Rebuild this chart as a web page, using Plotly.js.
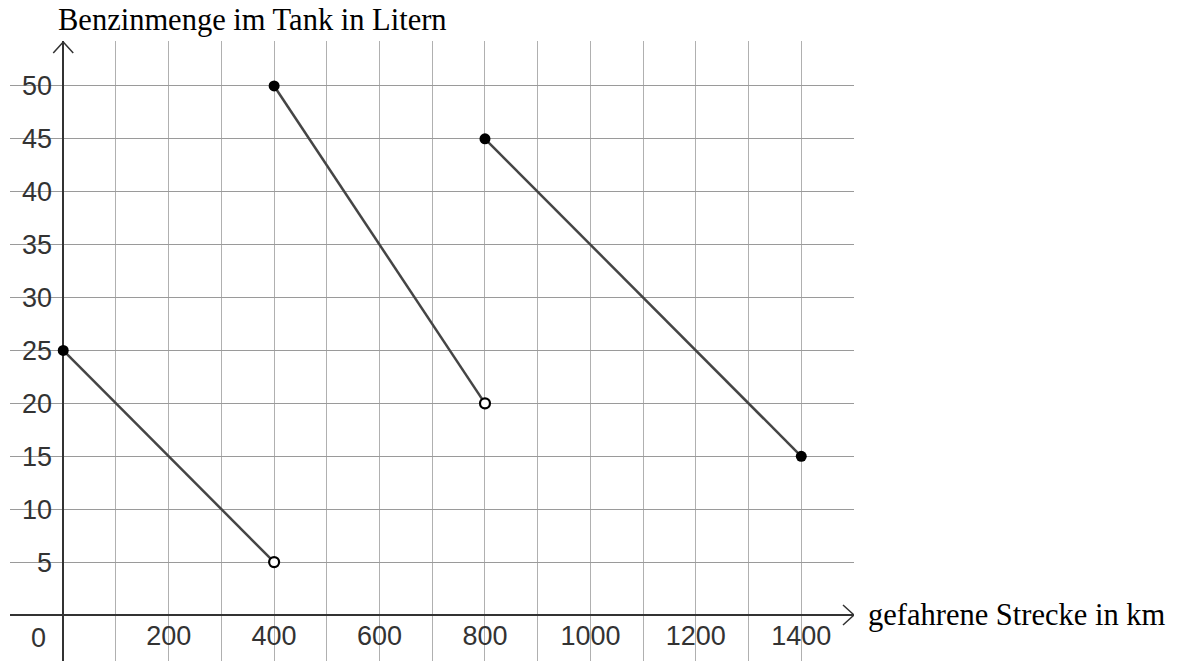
<!DOCTYPE html>
<html>
<head>
<meta charset="utf-8">
<script src="https://cdn.plot.ly/plotly-3.0.1.min.js"></script>
<style>html,body{margin:0;padding:0;background:#fff;}#chart{width:1178px;height:661px;}</style>
</head>
<body>
<div id="chart"></div>
<script>
// Segment data (km, litres)
const seg1X = [0, 400];
const seg1Y = [25, 5];
const seg2X = [400, 800];
const seg2Y = [50, 20];
const seg3X = [800, 1400];
const seg3Y = [45, 15];

// tick labels
const xTickVals = [200, 400, 600, 800, 1000, 1200, 1400];
const xTickText = ['200', '400', '600', '800', '1000', '1200', '1400'];
const xMinorVals = [-100, 100, 300, 500, 700, 900, 1100, 1300];
const yTickVals = [5, 10, 15, 20, 25, 30, 35, 40, 45, 50];
const yTickText = ['5', '10', '15', '20', '25', '30', '35', '40', '45', '50'];

const xTitle = 'gefahrene Strecke in km';
const yTitle = 'Benzinmenge im Tank in Litern';

const lineStyle = {color: '#454545', width: 2.5};
const segs = [[seg1X, seg1Y], [seg2X, seg2Y], [seg3X, seg3Y]];
const traces = segs.map(s => ({
  x: s[0], y: s[1], mode: 'lines', line: lineStyle, hoverinfo: 'skip', showlegend: false
}));

// filled endpoints: starts of each segment + end of last
traces.push({
  x: [seg1X[0], seg2X[0], seg3X[0], seg3X[1]],
  y: [seg1Y[0], seg2Y[0], seg3Y[0], seg3Y[1]],
  mode: 'markers', marker: {color: '#000', size: 11, line: {width: 0}},
  showlegend: false, hoverinfo: 'skip'
});
// open endpoints
traces.push({
  x: [seg1X[1], seg2X[1]],
  y: [seg1Y[1], seg2Y[1]],
  mode: 'markers', marker: {color: '#fff', size: 10, line: {color: '#000', width: 2.2}},
  showlegend: false, hoverinfo: 'skip'
});

const tickFont = {family: 'Liberation Sans, Arial, sans-serif', size: 27, color: '#333'};
const titleFont = {family: 'Liberation Serif, serif', size: 30.5, color: '#000'};

const xMin = -101, xMax = 1500, yMin = -4.35, yMax = 54.25;

const layout = {
  width: 1178, height: 661,
  margin: {l: 10, r: 324, t: 41, b: 0},
  paper_bgcolor: '#fff', plot_bgcolor: '#fff',
  showlegend: false,
  xaxis: {
    range: [xMin, xMax], tickmode: 'array', tickvals: xTickVals, ticktext: xTickText,
    showgrid: true, gridcolor: '#b0b0b0', gridwidth: 1,
    minor: {tickmode: 'array', tickvals: xMinorVals, showgrid: true, gridcolor: '#b0b0b0', gridwidth: 1, ticks: ''},
    zeroline: true, zerolinecolor: '#333', zerolinewidth: 1.5,
    showline: false, ticks: '', tickfont: tickFont, ticklabelstandoff: 2,
    anchor: 'free', position: 46 / 620, fixedrange: true
  },
  yaxis: {
    range: [yMin, yMax], tickmode: 'array', tickvals: yTickVals, ticktext: yTickText,
    showgrid: true, gridcolor: '#9a9a9a', gridwidth: 1,
    zeroline: true, zerolinecolor: '#333', zerolinewidth: 1.5,
    showline: false, ticks: '', tickfont: tickFont, ticklabelstandoff: 11,
    anchor: 'free', position: 53 / 844, fixedrange: true
  },
  shapes: [
    {type: 'path', xref: 'x', yref: 'y', xsizemode: 'pixel', ysizemode: 'pixel',
     xanchor: xMax, yanchor: 0, path: 'M-11,-10 L0,0 L-11,10',
     line: {color: '#333', width: 1.5}},
    {type: 'path', xref: 'x', yref: 'y', xsizemode: 'pixel', ysizemode: 'pixel',
     xanchor: 0, yanchor: yMax, path: 'M-10,-12 L0,-1 L10,-12',
     line: {color: '#333', width: 1.5}}
  ],
  annotations: [
    {xref: 'x', yref: 'y', x: 0, y: 0, text: '0', showarrow: false,
     xanchor: 'right', yanchor: 'top', xshift: -15, yshift: -6, font: tickFont},
    {xref: 'paper', yref: 'paper', x: 856 / 844, y: 0.0742, text: xTitle, showarrow: false,
     xanchor: 'left', yanchor: 'middle', font: titleFont},
    {xref: 'paper', yref: 'paper', x: 46 / 844, y: 1, yshift: 21, text: yTitle, showarrow: false,
     xanchor: 'left', yanchor: 'middle', font: titleFont}
  ]
};

Plotly.newPlot('chart', traces, layout, {displayModeBar: false, staticPlot: true});
</script>
</body>
</html>
